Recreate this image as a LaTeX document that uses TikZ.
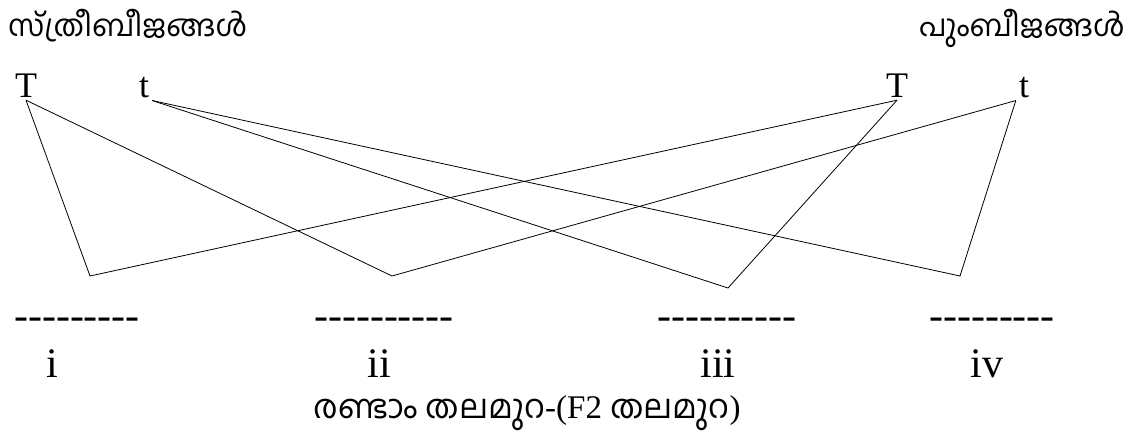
\documentclass[tikz,border=0pt]{standalone}
\usepackage{fontspec}
\setmainfont{Liberation Serif}[Ligatures=TeXOff]
\newfontfamily\mlfont[Script=Malayalam]{Hind Kochi}
\usetikzlibrary{positioning}

\begin{document}
\begin{tikzpicture}[
  x=1pt, y=-1pt,
  every node/.style={inner sep=0pt},
  head/.style={font=\fontsize{30}{36}\selectfont\mlfont},
  gamete/.style={font=\fontsize{36}{40}\selectfont, anchor=base, inner sep=3pt},
  blank/.style={font=\fontsize{42}{46}\selectfont, anchor=base},
  cross/.style={line width=0.8pt},
]
\useasboundingbox (0,0) rectangle (1132,436);

% gametes of the two parents
\node[head, anchor=base west] (fem) at (8,37) {സ്ത്രീബീജങ്ങൾ};
\node[head, anchor=base east] (mal) at (1125,37) {പുംബീജങ്ങൾ};
\node[gamete] (fT) at (26,97) {T};
\node[gamete] (ft) at (144,97) {t};
\node[gamete] (mT) at (897,97) {T};
\node[gamete] (mt) at (1024,97) {t};

% where two gametes meet
\coordinate (p1) at (90,276);
\coordinate (p2) at (392,276);
\coordinate (p3) at (728,288);
\coordinate (p4) at (960,276);

\draw[cross] (fT.south) -- (p1) -- (mT.south);
\draw[cross] (fT.south) -- (p2) -- (mt.south west);
\draw[cross] (ft.south east) -- (p3) -- (mT.south);
\draw[cross] (ft.south east) -- (p4) -- (mt.south west);

% blanks to fill in
\foreach \dx/\lx/\dsh/\lab/\k in
  {77/52/{---------}/i/1, 384/379/{----------}/ii/2,
   727/718/{----------}/iii/3, 992/987/{---------}/iv/4}{
  \node[blank] (b\k) at (\dx,329) {\dsh};
  \node[blank] (l\k) at (\lx,377) {\lab};
}

\node[font=\fontsize{33}{38}\selectfont, anchor=base] (gen) at (527,418)
  {{\mlfont രണ്ടാം തലമുറ}-(F2 {\mlfont തലമുറ})};

\end{tikzpicture}
\end{document}
